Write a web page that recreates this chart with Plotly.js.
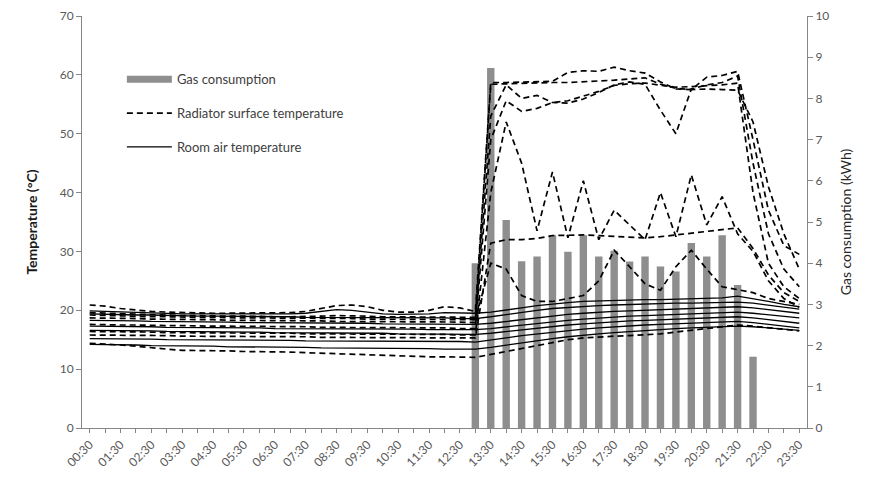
<!DOCTYPE html>
<html>
<head>
<meta charset="utf-8">
<script src="https://cdn.plot.ly/plotly-3.0.1.min.js"></script>
<style>html,body{margin:0;padding:0;background:#fff;}#chart{width:870px;height:481px;}</style>
</head>
<body>
<div id="chart"></div>
<script>
// Half-hourly time categories
const times = ["00:30","01:00","01:30","02:00","02:30","03:00","03:30","04:00","04:30","05:00","05:30","06:00","06:30","07:00","07:30","08:00","08:30","09:00","09:30","10:00","10:30","11:00","11:30","12:00","12:30","13:00","13:30","14:00","14:30","15:00","15:30","16:00","16:30","17:00","17:30","18:00","18:30","19:00","19:30","20:00","20:30","21:00","21:30","22:00","22:30","23:00","23:30"];
const tickLabels = ["00:30","01:30","02:30","03:30","04:30","05:30","06:30","07:30","08:30","09:30","10:30","11:30","12:30","13:30","14:30","15:30","16:30","17:30","18:30","19:30","20:30","21:30","22:30","23:30"];

// Gas consumption (kWh)
const gas = [0,0,0,0,0,0,0,0,0,0,0,0,0,0,0,0,0,0,0,0,0,0,0,0,0,
  4.0,8.74,5.05,4.05,4.16,4.68,4.28,4.68,4.16,4.3,4.04,4.16,3.92,3.8,4.49,4.16,4.68,3.47,1.73,0,0,0];

// Radiator surface temperatures (°C)
const rad1 = [20.9,20.7,20.3,20.0,19.8,19.7,19.6,19.6,19.5,19.5,19.5,19.5,19.6,19.6,19.8,20.3,20.8,20.9,20.6,20.0,19.7,19.7,20.0,20.6,20.4,19.8,
  58.7,58.7,58.8,58.8,58.9,60.4,60.7,60.6,61.3,60.7,60.3,58.8,57.6,57.5,59.6,59.9,60.6,49.0,37.0,31.0,29.5];
const rad2 = [19.6,19.5,19.4,19.3,19.2,19.2,19.1,19.1,19.0,19.0,19.0,18.9,18.9,18.9,18.9,19.0,19.1,19.1,19.0,18.9,18.9,18.8,18.8,18.9,18.9,18.8,
  58.4,58.5,58.6,58.6,58.7,58.7,58.8,58.9,59.1,59.3,59.5,58.4,57.7,57.5,57.6,57.5,57.4,52.0,41.0,33.0,27.0];
const rad3 = [18.7,18.7,18.6,18.6,18.5,18.5,18.4,18.4,18.4,18.3,18.3,18.3,18.2,18.2,18.2,18.2,18.1,18.1,18.1,18.1,18.0,18.0,18.0,18.0,18.0,17.9,
  53.0,58.3,56.0,56.5,55.3,55.2,55.9,57.0,58.3,58.8,58.4,54.0,50.0,57.6,58.3,58.7,59.8,45.0,33.0,27.0,24.0];
const rad4 = [17.6,17.5,17.5,17.5,17.4,17.4,17.4,17.3,17.3,17.3,17.3,17.2,17.2,17.2,17.2,17.1,17.1,17.1,17.1,17.0,17.0,17.0,17.0,17.0,16.9,16.9,
  49.0,55.6,53.8,54.3,55.3,55.6,56.4,57.2,58.2,58.5,58.6,58.3,57.9,58.0,58.1,58.3,58.6,40.0,28.0,24.0,22.0];
const rad5 = [16.4,16.4,16.3,16.3,16.3,16.2,16.2,16.2,16.2,16.1,16.1,16.1,16.1,16.1,16.0,16.0,16.0,16.0,16.0,15.9,15.9,15.9,15.9,15.9,15.8,15.8,
  40.0,52.0,45.0,33.5,43.5,32.3,42.0,32.0,37.0,34.5,32.0,40.0,32.5,43.0,34.5,39.3,33.0,30.0,25.0,22.0,20.5];
const rad6 = [15.8,15.8,15.8,15.7,15.7,15.7,15.6,15.6,15.6,15.6,15.5,15.5,15.5,15.5,15.5,15.4,15.4,15.4,15.4,15.4,15.3,15.3,15.3,15.3,15.3,15.3,
  31.4,32.0,32.0,32.2,32.7,32.8,32.8,32.7,32.6,32.4,32.3,32.5,32.8,33.0,33.3,33.6,34.0,30.5,26.0,23.0,21.5];
const rad7 = [19.2,19.1,19.0,19.0,18.9,18.9,18.8,18.8,18.8,18.7,18.7,18.7,18.7,18.6,18.6,18.6,18.6,18.6,18.5,18.5,18.5,18.5,18.4,18.4,18.4,18.4,
  28.0,27.0,22.5,21.5,21.5,22.0,22.5,25.0,30.2,27.4,24.5,23.4,27.4,30.2,27.0,24.0,23.5,23.0,22.0,21.5,21.0];
const rad8 = [14.4,14.3,14.1,13.9,13.6,13.4,13.2,13.2,13.1,13.1,13.0,13.0,12.9,12.9,12.8,12.7,12.6,12.5,12.4,12.3,12.2,12.1,12.1,12.1,12.0,12.0,
  12.5,13.0,13.5,14.0,14.5,15.0,15.3,15.5,15.6,15.7,15.8,16.0,16.3,16.6,16.9,17.2,17.5,17.3,17.0,16.8,16.5];

// Room air temperatures (°C)
const air1 = [19.9,19.8,19.7,19.6,19.5,19.5,19.4,19.4,19.4,19.3,19.3,19.3,19.3,19.4,19.5,19.8,20.1,20.0,19.7,19.4,19.3,19.3,19.4,19.6,19.6,19.5,
  19.7,20.0,20.4,20.8,21.1,21.3,21.5,21.6,21.7,21.8,21.8,21.8,21.9,21.9,22.0,22.1,22.4,22.0,21.5,21.0,20.6];
const air2 = [19.4,19.3,19.3,19.2,19.2,19.1,19.1,19.0,19.0,19.0,18.9,18.9,18.9,18.9,18.8,18.8,18.8,18.8,18.8,18.7,18.7,18.7,18.7,18.7,18.6,18.6,
  18.9,19.3,19.7,20.0,20.3,20.5,20.7,20.8,20.9,21.0,21.1,21.1,21.2,21.2,21.3,21.3,21.4,21.2,20.9,20.5,20.2];
const air3 = [18.3,18.3,18.2,18.2,18.1,18.1,18.1,18.0,18.0,18.0,17.9,17.9,17.9,17.9,17.8,17.8,17.8,17.8,17.8,17.7,17.7,17.7,17.7,17.7,17.6,17.6,
  17.8,18.1,18.5,18.8,19.1,19.3,19.5,19.7,19.8,19.9,20.0,20.1,20.2,20.3,20.4,20.5,20.6,20.4,20.1,19.8,19.5];
const air4 = [17.3,17.3,17.2,17.2,17.2,17.1,17.1,17.1,17.0,17.0,17.0,17.0,16.9,16.9,16.9,16.9,16.9,16.8,16.8,16.8,16.8,16.8,16.7,16.7,16.7,16.7,
  16.9,17.2,17.5,17.8,18.1,18.3,18.5,18.7,18.9,19.0,19.1,19.2,19.3,19.4,19.5,19.6,19.7,19.5,19.2,18.9,18.7];
const air5 = [16.6,16.6,16.5,16.5,16.5,16.4,16.4,16.4,16.3,16.3,16.3,16.3,16.2,16.2,16.2,16.2,16.1,16.1,16.1,16.1,16.0,16.0,16.0,16.0,16.0,15.9,
  16.1,16.4,16.7,17.0,17.3,17.5,17.7,17.9,18.0,18.2,18.3,18.4,18.5,18.6,18.7,18.8,18.9,18.7,18.4,18.1,17.8];
const air6 = [15.2,15.2,15.1,15.1,15.1,15.0,15.0,15.0,15.0,14.9,14.9,14.9,14.9,14.9,14.8,14.8,14.8,14.8,14.8,14.7,14.7,14.7,14.7,14.7,14.7,14.6,
  14.9,15.3,15.7,16.0,16.3,16.6,16.8,17.0,17.2,17.4,17.5,17.6,17.7,17.8,17.9,18.0,18.1,17.9,17.6,17.3,17.0];
const air7 = [14.2,14.2,14.1,14.1,14.0,14.0,13.9,13.9,13.9,13.8,13.8,13.8,13.7,13.7,13.7,13.6,13.6,13.6,13.6,13.5,13.5,13.5,13.5,13.4,13.4,13.4,
  13.7,14.1,14.5,14.9,15.2,15.5,15.8,16.0,16.2,16.4,16.6,16.8,16.9,17.0,17.1,17.2,17.3,17.2,17.0,16.8,16.6];

const radiators = [rad1, rad2, rad3, rad4, rad5, rad6, rad7, rad8];
const airs = [air1, air2, air3, air4, air5, air6, air7];

const barColor = '#8e8e8e';
const traces = [];
traces.push({
  type: 'bar', x: times, y: gas, yaxis: 'y', name: 'Gas consumption',
  marker: {color: barColor}, showlegend: false, hoverinfo: 'skip'
});
// legend-only entry drawn as a wide bar swatch (no visible data)
traces.push({
  type: 'scatter', mode: 'lines', x: [times[0]], y: [null], yaxis: 'y2', name: 'Gas consumption',
  line: {color: barColor, width: 7}, legendgroup: 'g1', showlegend: true, hoverinfo: 'skip'
});
radiators.forEach((r, i) => traces.push({
  type: 'scatter', mode: 'lines', x: times, y: r, yaxis: 'y2',
  name: 'Radiator surface temperature', legendgroup: 'g2', showlegend: i === 0,
  line: {color: '#000', width: 1.7, dash: '6px,4px'}
}));
airs.forEach((a, i) => traces.push({
  type: 'scatter', mode: 'lines', x: times, y: a, yaxis: 'y2',
  name: 'Room air temperature', legendgroup: 'g3', showlegend: i === 0,
  line: {color: '#000', width: 1.3}
}));

const tickFont = {family: 'Lato, "Open Sans", sans-serif', size: 12, color: '#595959'};
const layout = {
  width: 870, height: 481,
  margin: {l: 82, r: 63, t: 16, b: 53},
  paper_bgcolor: '#fff', plot_bgcolor: '#fff',
  bargap: 0.52,
  showlegend: true,
  legend: {x: 0.055, y: 0.883, xanchor: 'left', yanchor: 'top', bgcolor: 'rgba(0,0,0,0)',
    font: {family: 'Lato, "Open Sans", sans-serif', size: 13, color: '#404040'},
    tracegroupgap: 14, traceorder: 'grouped', itemwidth: 45},
  xaxis: {
    type: 'category', categoryorder: 'array', categoryarray: times,
    range: [-0.5, times.length - 0.5],
    tickmode: 'array', tickvals: times,
    ticktext: times.map(t => tickLabels.includes(t) ? t : ''),
    tickangle: -45, tickfont: tickFont,
    showline: true, linecolor: '#868686', linewidth: 1,
    ticks: 'outside', ticklen: 4, tickcolor: '#868686',
    showgrid: false, zeroline: false, automargin: false
  },
  yaxis: {
    side: 'right', range: [0, 10], dtick: 1, tickfont: tickFont,
    showline: true, linecolor: '#868686', linewidth: 1,
    ticks: 'outside', ticklen: 5, tickcolor: '#868686',
    showgrid: false, zeroline: false, automargin: false,
    title: {text: 'Gas consumption (kWh)', standoff: 12,
      font: {family: 'Lato, "Open Sans", sans-serif', size: 14, color: '#262626'}}
  },
  yaxis2: {
    overlaying: 'y', side: 'left', range: [0, 70], dtick: 10, tickfont: tickFont,
    showline: true, linecolor: '#868686', linewidth: 1,
    ticks: 'outside', ticklen: 5, tickcolor: '#868686',
    showgrid: false, zeroline: false, automargin: false,
    title: {text: '<b>Temperature (°C)</b>', standoff: 18,
      font: {family: 'Lato, "Open Sans", sans-serif', size: 14, color: '#1a1a1a'}}
  }
};

Plotly.newPlot('chart', traces, layout, {displayModeBar: false, staticPlot: true});
</script>
</body>
</html>
